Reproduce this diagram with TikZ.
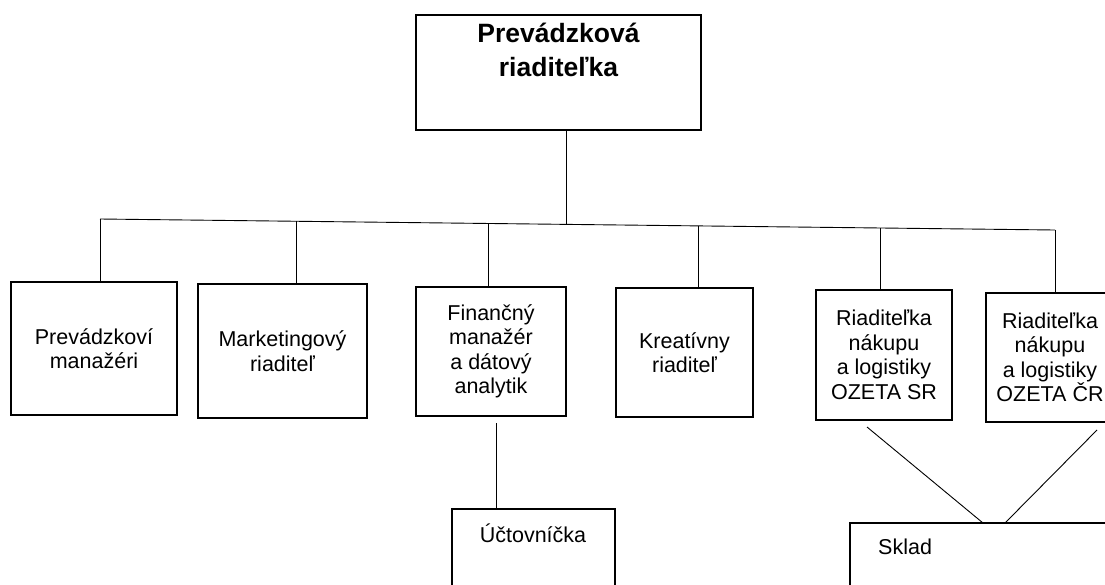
\documentclass[tikz,border=0pt]{standalone}
\usepackage{fontspec}
\setmainfont{Liberation Sans}
\begin{document}
\begin{tikzpicture}[x=1pt,y=-1pt,
  box/.style={draw, line width=1.1pt, inner sep=0pt, align=center,
    font=\fontsize{21.5}{24.5}\selectfont},
  lbl/.style={inner sep=0pt, align=center, font=\fontsize{21.5}{24.5}\selectfont},
  ttl/.style={inner sep=0pt, align=center, font=\fontsize{26.5}{34}\selectfont\bfseries},
  con/.style={line width=0.9pt}]
\useasboundingbox (0,0) rectangle (1105,584);
\clip (0,0) rectangle (1105,584);
% boxes
\node[box, minimum width=285pt, minimum height=115pt] (top) at (558.5,72.5) {};
\node[ttl] (toptext) at (558.5,50) {Prevádzková\\riaditeľka};
\node[box, minimum width=166pt, minimum height=133pt] (p1) at (94,348.5) {Prevádzkoví\\manažéri};
\node[box, minimum width=169pt, minimum height=134pt] (p2) at (282.5,351) {Marketingový\\riaditeľ};
\node[box, minimum width=150pt, minimum height=129pt] (p3) at (491,351.5) {Finančný\\manažér\\a dátový\\analytik};
\node[box, minimum width=137pt, minimum height=129pt] (p4) at (684.5,352.5) {Kreatívny\\riaditeľ};
\node[box, minimum width=136pt, minimum height=130pt] (p5) at (884,355) {Riaditeľka\\nákupu\\a logistiky\\OZETA SR};
\node[box, minimum width=128pt, minimum height=129pt] (p6) at (1050,357.5) {Riaditeľka\\nákupu\\a logistiky\\OZETA ČR};
\node[box, minimum width=163pt, minimum height=111pt] (acc) at (533.5,564.5) {};
\node[lbl] (acctext) at (533,533) {Účtovníčka};
\node[box, minimum width=290pt, minimum height=97pt] (sk) at (995,571.5) {};
\node[lbl, anchor=west] (sktext) at (878,547) {Sklad};
% bus (slightly skewed as in the scan)
\coordinate (d0) at (566,224.4);
\coordinate (d1) at (100,219);
\coordinate (d2) at (296,221.3);
\coordinate (d3) at (488,223.5);
\coordinate (d4) at (698,225.9);
\coordinate (d5) at (880,228);
\coordinate (d6) at (1055,230);
\draw[con] (top.south -| d0) -- (d0);
\draw[con] (d1) -- (d6);
\draw[con] (d1) -- (d1 |- p1.north);
\draw[con] (d2) -- (d2 |- p2.north);
\draw[con] (d3) -- (d3 |- p3.north);
\draw[con] (d4) -- (d4 |- p4.north);
\draw[con] (d5) -- (d5 |- p5.north);
\draw[con] (d6) -- (d6 |- p6.north);
% accountant
\coordinate (u0) at (496,423);
\draw[con] (u0) -- (u0 |- acc.north);
% warehouse
\coordinate (s1) at (867,427);
\coordinate (s2) at (1097,430);
\coordinate (t1) at (983,523);
\coordinate (t2) at (1005,523);
\draw[con] (s1) -- (t1);
\draw[con] (s2) -- (t2);
\end{tikzpicture}
\end{document}
